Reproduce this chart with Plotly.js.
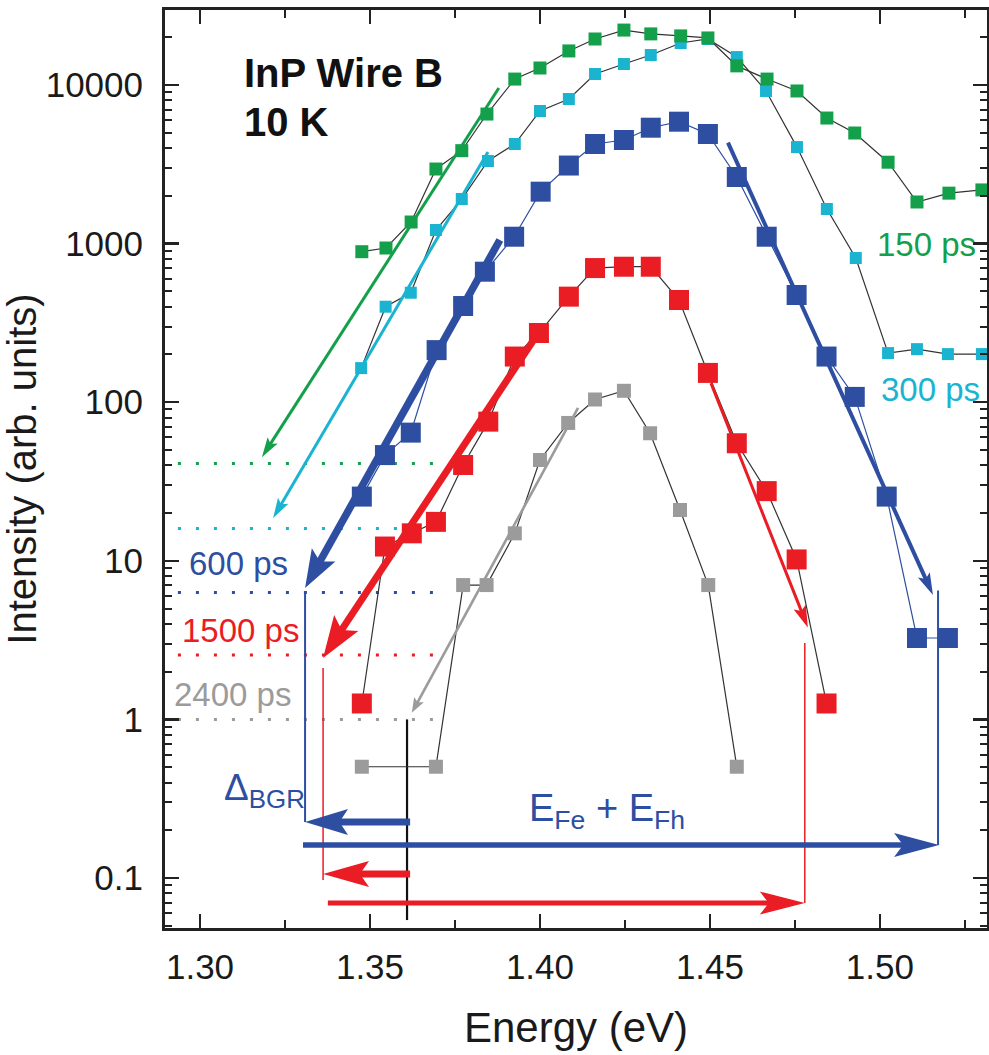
<!DOCTYPE html>
<html>
<head>
<meta charset="utf-8">
<script src="https://cdn.plot.ly/plotly-3.0.1.min.js"></script>
<style>html,body{margin:0;padding:0;background:#fff;}#chart{width:989px;height:1055px;}</style>
</head>
<body>
<div id="chart"></div>
<script>
// ---------------- data ----------------
const energy150 = [1.3476,1.3547,1.3621,1.3694,1.3770,1.3844,1.3926,1.4000,1.4085,1.4162,1.4247,1.4326,1.4414,1.4494,1.4579,1.4668,1.4756,1.4844,1.4926,1.5024,1.5109,1.5203,1.5300];
const intensity150 = [889,938,1368,2953,3855,6561,10900,12800,16400,19500,22200,21000,20400,19800,13200,10900,9170,6190,4980,3260,1830,2080,2180];

const energy300 = [1.3474,1.3546,1.3620,1.3694,1.3770,1.3847,1.3926,1.4000,1.4085,1.4162,1.4247,1.4326,1.4414,1.4494,1.4579,1.4665,1.4756,1.4844,1.4929,1.5024,1.5109,1.5200,1.5300];
const intensity300 = [164,400,490,1218,1910,3318,4246,6855,8160,11730,13560,15450,18400,19500,15000,9170,4060,1652,811,204,216,201,201];

const energy600 = [1.3476,1.3544,1.3620,1.3696,1.3774,1.3838,1.3924,1.4002,1.4085,1.4162,1.4247,1.4326,1.4409,1.4494,1.4579,1.4667,1.4755,1.4843,1.4926,1.5020,1.5109,1.5200];
const intensity600 = [25.4,46.4,64.3,213,404,665,1105,2125,3106,4246,4500,5380,5870,4910,2630,1105,474,194,108,25.4,3.26,3.26];

const energy1500 = [1.3476,1.3544,1.3623,1.3694,1.3774,1.3848,1.3926,1.3997,1.4085,1.4162,1.4247,1.4326,1.4409,1.4494,1.4579,1.4667,1.4755,1.4843];
const intensity1500 = [1.26,12.3,14.9,17.6,40.2,75.4,194,273,463,701,715,715,441,153,55.1,27.5,10.2,1.26];

const energy2400 = [1.3476,1.3694,1.3774,1.3843,1.3926,1.4000,1.4083,1.4162,1.4247,1.4324,1.4412,1.4495,1.4579];
const intensity2400 = [0.503,0.503,7.03,7.03,14.9,43.2,74,104,118,63.7,20.9,7.03,0.503];

// fitted slopes (tail energy, tail intensity, tip energy, tip intensity)
const fit150  = [1.3879, 9580, 1.3182, 45.0];
const fit300  = [1.3847, 3780, 1.3215, 18.6];
const fit600L = [1.3882, 1054, 1.3309, 6.74];
const fit600R = [1.4553, 4330, 1.5156, 6.09];
const fit1500L = [1.3985, 254, 1.3362, 2.44];
const fit1500R = [1.4503, 132, 1.4788, 3.8];
const fit2400 = [1.4112, 92, 1.3623, 1.1];

// reference levels (dotted) and their energy span
const levelValues = [41.1, 16.0, 6.3, 2.55, 1.0];
const levelSpan = [1.2935, 1.3695];

// energy markers: band-gap renormalisation and Fermi-energy arrows
const bgrArrow   = [1.3618, 0.2254, 1.3309, 0.2254];
const fermiBlue  = [1.3303, 0.1614, 1.5174, 0.1614];
const bgrRed     = [1.3618, 0.1059, 1.3362, 0.1059];
const fermiRed   = [1.3376, 0.0695, 1.4779, 0.0695];
const vBlueLeft  = [1.3309, 6.3, 0.2254];
const vBlueRight = [1.5171, 6.5, 0.1614];
const vRedLeft   = [1.3362, 2.11, 0.097];
const vRedRight  = [1.4779, 3.03, 0.0695];
const vBlack     = [1.3609, 1.0, 0.0543];

const xTicks = [1.30,1.35,1.40,1.45,1.50];
const xTickText = ['1.30','1.35','1.40','1.45','1.50'];
const yTicks = [0.1,1,10,100,1000,10000];
const yTickText = ['0.1','1','10','100','1000','10000'];

// ---------------- style ----------------
const GREEN='#14a04b', CYAN='#1ab4d1', BLUE='#2d4ea1', RED='#ea1c24', GRAY='#9b9b9b', DARK='#333333';
const FONT='Liberation Sans, Arial, Helvetica, sans-serif';
const W=989, H=1055, M={l:165,r:2,t:10,b:127};
const XR=[1.2897,1.5315], YR=[-1.3153,4.4729];
const pw=W-M.l-M.r, ph=H-M.t-M.b;
const pxX = x => (x-XR[0])/(XR[1]-XR[0])*pw;
const pxY = v => (Math.log10(v)-YR[0])/(YR[1]-YR[0])*ph;

const traces=[];
const shapes=[];

// dotted reference levels
const levelColors=[GREEN,CYAN,BLUE,RED,GRAY];
levelValues.forEach((v,i)=>{
  traces.push({x:levelSpan,y:[v,v],mode:'lines',line:{color:levelColors[i],width:3,dash:'3px,15px'},hoverinfo:'skip'});
});
// vertical guide lines
function vline(a,color,w){traces.push({x:[a[0],a[0]],y:[a[1],a[2]],mode:'lines',line:{color:color,width:w},hoverinfo:'skip'});}
vline(vBlueLeft,BLUE,2);
vline(vBlueRight,BLUE,2);
vline(vRedLeft,RED,1.5);
vline(vRedRight,RED,1.5);
vline(vBlack,'#111',2.2);

// data series
function series(x,y,color,size,lineColor){
  traces.push({x:x,y:y,mode:'lines+markers',line:{color:lineColor,width:1.2},
    marker:{symbol:'square',size:size,color:color,line:{width:0}},hoverinfo:'skip'});
}
series(energy2400,intensity2400,GRAY,14,DARK);
series(energy1500,intensity1500,RED,20,DARK);
series(energy600,intensity600,BLUE,20,BLUE);
series(energy300,intensity300,CYAN,12,DARK);
series(energy150,intensity150,GREEN,13,DARK);

// arrows: shaft as trace, head as pixel-sized path shape
function arrow(a,color,w,L,HW){
  const x1=pxX(a[0]),y1=pxY(a[1]),x2=pxX(a[2]),y2=pxY(a[3]);
  const dx=x2-x1,dy=y2-y1,len=Math.hypot(dx,dy),ux=dx/len,uy=dy/len,nx=-uy,ny=ux;
  const back=L*0.7;
  const ex=x2-ux*back, ey=y2-uy*back;
  const exData=XR[0]+ex/pw*(XR[1]-XR[0]);
  const eyData=Math.pow(10,YR[0]+ey/ph*(YR[1]-YR[0]));
  traces.push({x:[a[0],exData],y:[a[1],eyData],mode:'lines',line:{color:color,width:w},hoverinfo:'skip'});
  const p1=[-ux*L+nx*HW/2,-uy*L+ny*HW/2];
  const p2=[-ux*L*0.8,-uy*L*0.8];
  const p3=[-ux*L-nx*HW/2,-uy*L-ny*HW/2];
  const f=n=>n.toFixed(2);
  shapes.push({type:'path',xref:'paper',yref:'paper',xsizemode:'pixel',ysizemode:'pixel',
    xanchor:x2/pw,yanchor:y2/ph,
    path:`M0,0L${f(p1[0])},${f(p1[1])}L${f(p2[0])},${f(p2[1])}L${f(p3[0])},${f(p3[1])}Z`,
    fillcolor:color,line:{width:0},layer:'above'});
}
arrow(fit150,GREEN,3,20,12);
arrow(fit300,CYAN,3,20,12);
arrow(fit600L,BLUE,7.5,38,27);
arrow(fit600R,BLUE,4,22,13);
arrow(fit1500L,RED,7,42,29);
arrow(fit1500R,RED,3,22,13);
arrow(fit2400,GRAY,2.6,15,11);
arrow(bgrArrow,BLUE,7,43,26);
arrow(fermiBlue,BLUE,5.5,45,24);
arrow(bgrRed,RED,7,46,26);
arrow(fermiRed,RED,5,45,23);

// minor log ticks
const minorY=[];
for(let d=-2;d<=4;d++){for(let k=2;k<=9;k++){minorY.push(k*Math.pow(10,d));}}

const L10=Math.log10;
const annotations=[
  {x:1.3124,y:L10(11900),text:'<b>InP Wire B</b>',xanchor:'left',yanchor:'middle',font:{size:40,color:'#111'}},
  {x:1.3124,y:L10(5850),text:'<b>10 K</b>',xanchor:'left',yanchor:'middle',font:{size:40,color:'#111'}},
  {x:1.5288,y:L10(994),text:'150 ps',xanchor:'right',yanchor:'middle',font:{size:33,color:GREEN}},
  {x:1.5300,y:L10(121),text:'300 ps',xanchor:'right',yanchor:'middle',font:{size:33,color:CYAN}},
  {x:1.2962,y:L10(9.68),text:'600 ps',xanchor:'left',yanchor:'middle',font:{size:33,color:BLUE}},
  {x:1.2941,y:L10(3.66),text:'1500 ps',xanchor:'left',yanchor:'middle',font:{size:33,color:RED}},
  {x:1.2918,y:L10(1.445),text:'2400 ps',xanchor:'left',yanchor:'middle',font:{size:33,color:GRAY}},
  {x:1.3065,y:L10(0.36),text:'Δ<sub>BGR</sub>',xanchor:'left',yanchor:'middle',font:{size:37,color:BLUE}},
  {x:1.3962,y:L10(0.265),text:'E<sub>Fe</sub> + E<sub>Fh</sub>',xanchor:'left',yanchor:'middle',font:{size:38,color:BLUE}}
].map(a=>Object.assign({xref:'x',yref:'y',showarrow:false},a));

const layout={
  width:W,height:H,margin:M,paper_bgcolor:'#fff',plot_bgcolor:'#fff',showlegend:false,
  font:{family:FONT,color:'#1a1a1a'},
  xaxis:{range:XR,tickmode:'array',tickvals:xTicks,ticktext:xTickText,ticks:'inside',ticklen:14,tickwidth:2.5,
    tickcolor:'#222',showline:true,linewidth:3,linecolor:'#222',mirror:'ticks',showgrid:false,zeroline:false,
    tickfont:{size:35,family:FONT,color:'#1a1a1a'},ticklabelstandoff:6,
    minor:{ticks:'inside',ticklen:8,tickwidth:2,tickcolor:'#222',tickvals:[1.325,1.375,1.425,1.475,1.525],showgrid:false},
    title:{text:'Energy (eV)',font:{size:42,family:FONT,color:'#1a1a1a'},standoff:28}},
  yaxis:{type:'log',range:YR,tickmode:'array',tickvals:yTicks,ticktext:yTickText,ticks:'inside',ticklen:14,tickwidth:2.5,
    tickcolor:'#222',showline:true,linewidth:3,linecolor:'#222',mirror:'ticks',showgrid:false,zeroline:false,
    tickfont:{size:35,family:FONT,color:'#1a1a1a'},ticklabelstandoff:12,
    minor:{ticks:'inside',ticklen:7,tickwidth:2,tickcolor:'#222',tickvals:minorY,showgrid:false},
    title:{text:'Intensity (arb. units)',font:{size:40,family:FONT,color:'#1a1a1a'},standoff:12}},
  shapes:shapes,annotations:annotations
};
Plotly.newPlot('chart',traces,layout,{staticPlot:true,displayModeBar:false});
</script>
</body>
</html>
